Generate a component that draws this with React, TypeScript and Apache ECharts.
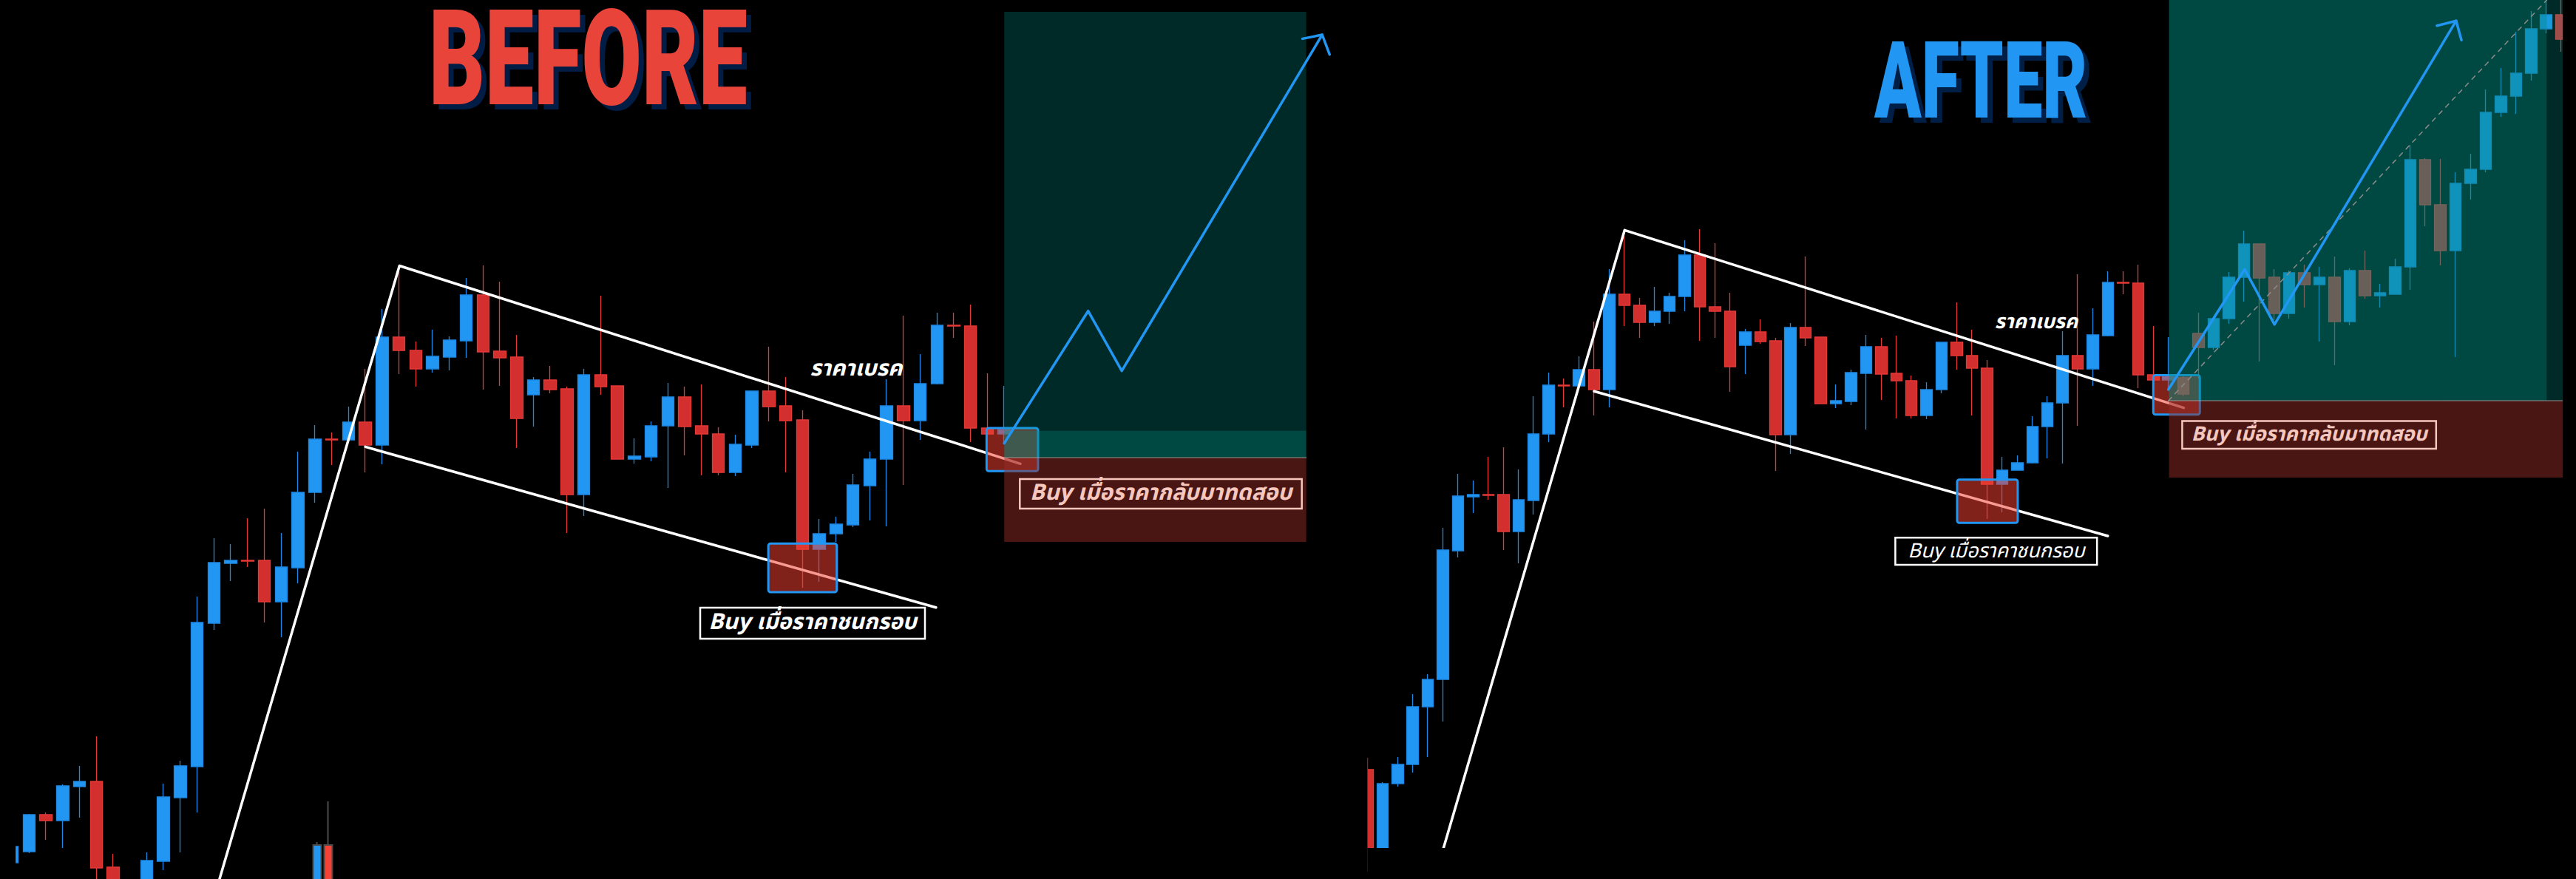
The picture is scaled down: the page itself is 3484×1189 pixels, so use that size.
import React, { useEffect, useRef } from 'react';
import * as echarts from 'echarts';

const W = 3484;
const H = 1189;

// ---------- DATA (price units, x = candle index) ----------
const leftFirstIndex = -1;
// [open, close, low, high]
const leftOHLC: number[][] = [
  [22, 44, 22, 44],
  [37, 87, 35, 88],
  [87, 79, 53, 90],
  [79, 126, 42, 128],
  [125, 132, 83, 153],
  [132, 15, -10, 193],
  [16, -25, -35, 34],
  [-30, -15, -40, -8],
  [-12, 25, -20, 36],
  [24, 111, 12, 129],
  [110, 153, 36, 160],
  [152, 347, 90, 382],
  [346, 428, 337, 461],
  [427, 431, 403, 453],
  [431, 430, 422, 488],
  [431, 375, 347, 501],
  [375, 422, 327, 468],
  [421, 523, 400, 578],
  [523, 595, 509, 614],
  [595, 594, 560, 604],
  [594, 618, 594, 639],
  [618, 587, 550, 690],
  [587, 733, 561, 771],
  [733, 715, 683, 822],
  [715, 690, 666, 727],
  [690, 707, 685, 743],
  [706, 729, 688, 734],
  [728, 790, 705, 813],
  [790, 713, 662, 830],
  [714, 705, 667, 808],
  [706, 623, 583, 736],
  [655, 675, 612, 679],
  [675, 662, 657, 694],
  [663, 520, 468, 666],
  [520, 682, 491, 690],
  [682, 666, 655, 789],
  [667, 568, 568, 667],
  [568, 572, 562, 596],
  [571, 613, 565, 619],
  [613, 652, 529, 671],
  [652, 612, 573, 666],
  [613, 602, 546, 669],
  [602, 550, 546, 611],
  [550, 588, 545, 601],
  [587, 660, 583, 660],
  [660, 639, 619, 720],
  [640, 620, 550, 679],
  [621, 446, 394, 634],
  [446, 467, 402, 487],
  [467, 480, 456, 490],
  [479, 533, 476, 548],
  [532, 568, 485, 578],
  [568, 640, 477, 676],
  [640, 620, 533, 762],
  [620, 670, 594, 710],
  [670, 749, 669, 766],
  [749, 748, 732, 766],
  [748, 610, 591, 777],
  [610, 602, 602, 684],
  [602, 608, 589, 667],
];

// two grey-outlined overlay bars at the bottom of the left panel: [x, open, close, low, high]
const leftOverlayBars: number[][] = [
  [17.14, -20, 46, -30, 50],
  [17.8, 46, -20, -30, 105],
];

const rightFirstIndex = 0;
const rightOHLC: number[][] = [
  [148, 20, 10, 164],
  [20, 129, 15, 131],
  [129, 155, 125, 165],
  [155, 233, 144, 250],
  [233, 270, 165, 277],
  [270, 445, 213, 475],
  [444, 518, 435, 548],
  [517, 520, 495, 539],
  [520, 519, 513, 571],
  [520, 470, 445, 584],
  [470, 513, 427, 554],
  [512, 602, 493, 653],
  [602, 668, 591, 685],
  [668, 667, 638, 677],
  [667, 689, 667, 707],
  [689, 662, 627, 754],
  [662, 791, 638, 825],
  [791, 776, 748, 874],
  [776, 753, 732, 786],
  [753, 768, 748, 801],
  [768, 788, 751, 793],
  [788, 844, 768, 864],
  [844, 774, 728, 879],
  [774, 768, 732, 860],
  [768, 693, 659, 793],
  [722, 740, 683, 744],
  [740, 727, 724, 757],
  [728, 601, 552, 732],
  [601, 746, 575, 752],
  [746, 732, 721, 842],
  [733, 643, 643, 733],
  [643, 647, 637, 669],
  [646, 685, 641, 689],
  [684, 720, 608, 736],
  [720, 683, 648, 732],
  [684, 674, 623, 735],
  [674, 627, 623, 681],
  [627, 662, 622, 672],
  [662, 726, 657, 726],
  [726, 708, 689, 780],
  [708, 691, 627, 743],
  [691, 534, 487, 702],
  [534, 553, 496, 571],
  [553, 563, 553, 573],
  [563, 612, 562, 626],
  [612, 644, 569, 653],
  [644, 708, 562, 741],
  [708, 690, 613, 818],
  [690, 736, 667, 772],
  [735, 807, 734, 822],
  [807, 806, 791, 822],
  [806, 682, 664, 831],
  [682, 675, 675, 748],
  [675, 680, 662, 733],
  [678, 656, 653, 681],
  [738, 719, 677, 766],
  [719, 758, 716, 758],
  [758, 814, 751, 821],
  [814, 859, 781, 877],
  [859, 813, 700, 859],
  [814, 765, 756, 825],
  [765, 820, 758, 823],
  [820, 804, 773, 831],
  [804, 814, 727, 828],
  [814, 754, 695, 842],
  [754, 823, 749, 826],
  [823, 789, 785, 850],
  [789, 793, 773, 805],
  [791, 828, 791, 839],
  [828, 973, 797, 993],
  [973, 912, 883, 975],
  [912, 850, 830, 974],
  [850, 941, 706, 956],
  [941, 960, 919, 981],
  [960, 1037, 956, 1068],
  [1037, 1059, 1031, 1097],
  [1059, 1090, 1035, 1146],
  [1090, 1150, 1080, 1174],
  [1150, 1169, 1144, 1195],
  [1169, 1136, 1119, 1200],
];

// trend lines [x, price]
const leftChannelTop: number[][] = [[11.33, 0], [22.03, 829.5], [58.96, 561.7]];
const leftChannelBottom: number[][] = [[20.0, 584.6], [53.94, 367.3]];
const rightChannelTop: number[][] = [[5.0, 39.4], [17.02, 877.7], [54.01, 637.3]];
const rightChannelBottom: number[][] = [[15.0, 659.7], [48.99, 464]];

// projected path arrows
const leftArrow: number[][] = [[58.0, 589.4], [62.99, 768.3], [64.99, 687.3], [76.91, 1142]];
const leftArrowHead: number[][] = [[75.74, 1136.6], [76.91, 1142], [77.35, 1115.3]];
const rightArrow: number[][] = [[53.0, 662.1], [58.05, 824.7], [60.02, 750.1], [72.04, 1160.8]];
const rightArrowHead: number[][] = [[70.77, 1154.3], [72.04, 1160.8], [72.39, 1134.8]];

// rectangles [x1, price1, x2, price2]
const leftTouchBox: number[][] = [[43.97, 453.7, 48.04, 388]];
const leftRetestBox: number[][] = [[56.95, 610, 60.01, 551.7]];
const leftProfitZone: number[][] = [[58.0, 1173, 75.96, 606.4]];
const leftCurrentZone: number[][] = [[58.0, 606.4, 75.96, 570]];
const leftLossZone: number[][] = [[58.0, 570, 75.96, 456]];
const leftEntryLine: number[][] = [[58.0, 570], [75.96, 570]];

const rightTouchBox: number[][] = [[39.02, 540.3, 43.03, 481.7]];
const rightRetestBox: number[][] = [[52.0, 681.6, 55.08, 628.3]];
const rightProfitZone: number[][] = [[78.04, 1200, 79.13, 647]];
const rightCurrentZone: number[][] = [[53.04, 1200, 78.04, 647]];
const rightLossZone: number[][] = [[53.04, 647, 79.13, 543]];
const rightEntryLine: number[][] = [[53.04, 647], [79.13, 647]];
const rightProgressLine: number[][] = [[53.0, 647], [78.04, 1189]];

// texts
const titleBefore = 'BEFORE';
const titleAfter = 'AFTER';
const breakText = 'ราคาเบรค';
const touchText = 'Buy เมื่อราคาชนกรอบ';
const retestText = 'Buy เมื่อราคากลับมาทดสอบ';

// ---------- LAYOUT ----------
const L_X0 = 39.3, L_DX = 22.74, L_MIN = -0.8, L_MAX = 79;
const R_X0 = 1849.4, R_DX = 20.44, R_MIN = 0, R_MAX = 79.1;
const R_BOTTOM = 1147;

const BLUE = '#2196f3';
const RED = '#d32f2f';
const THAI = "'Noto Sans Thai', 'Noto Sans Thai UI', 'Noto Sans', 'DejaVu Sans', sans-serif";

function withX(ohlc: number[][], first: number) {
  return ohlc.map((d, i) => [first + i, d[0], d[1], d[2], d[3]]);
}

function candle(data: number[][], axis: number, width: number, extra: any = {}) {
  return {
    type: 'candlestick',
    xAxisIndex: axis,
    yAxisIndex: axis,
    data,
    encode: { x: 0, y: [1, 2, 3, 4] },
    barWidth: width,
    clip: true,
    silent: true,
    z: 2,
    itemStyle: {
      color: BLUE,
      color0: RED,
      borderColor: '#1e88e5',
      borderColor0: '#e53935',
      borderWidth: 1.3,
    },
    ...extra,
  };
}

function line(data: number[][], axis: number, color: string, width: number, z: number, type: any = 'solid') {
  return {
    type: 'line',
    xAxisIndex: axis,
    yAxisIndex: axis,
    data,
    symbol: 'none',
    silent: true,
    clip: true,
    z,
    lineStyle: { color, width, type, cap: 'round', join: 'round' },
  };
}

function rects(data: number[][], axis: number, fill: string, stroke: string | null, lw: number, z: number, r = 0) {
  return {
    type: 'custom',
    xAxisIndex: axis,
    yAxisIndex: axis,
    data,
    silent: true,
    z,
    encode: { x: [0, 2], y: [1, 3] },
    renderItem: (_p: any, api: any) => {
      const a = api.coord([api.value(0), api.value(1)]);
      const b = api.coord([api.value(2), api.value(3)]);
      return {
        type: 'rect',
        shape: {
          x: Math.min(a[0], b[0]),
          y: Math.min(a[1], b[1]),
          width: Math.abs(b[0] - a[0]),
          height: Math.abs(b[1] - a[1]),
          r,
        },
        style: { fill, stroke: stroke || 'none', lineWidth: stroke ? lw : 0 },
      };
    },
  };
}

function text(t: string, x: number, y: number, size: number, fill: string, weight: any, style: string, family: string, align = 'center', scaleX = 1, lineHeight?: number) {
  return {
    type: 'text',
    x,
    y,
    z: 100,
    scaleX,
    silent: true,
    style: {
      text: t,
      fill,
      fontSize: size,
      fontWeight: weight,
      fontStyle: style,
      fontFamily: family,
      lineHeight: lineHeight || Math.round(size * 1.2),
      textAlign: align,
      textVerticalAlign: 'middle',
      align,
      verticalAlign: 'middle',
    },
  };
}

function frame(x: number, y: number, w: number, h: number, stroke: string) {
  return {
    type: 'rect',
    z: 99,
    silent: true,
    shape: { x, y, width: w, height: h },
    style: { fill: 'none', stroke, lineWidth: 2.5 },
  };
}

function mask(x: number, y: number, w: number, h: number) {
  return {
    type: 'rect',
    z: 50,
    silent: true,
    shape: { x, y, width: w, height: h },
    style: { fill: '#000' },
  };
}

function buildOption(): any {
  const TITLE_FONT = "Roboto, 'DejaVu Sans', sans-serif";
  const lGridLeft = L_X0 + L_MIN * L_DX;
  const rGridLeft = R_X0 + R_MIN * R_DX;
  const rGridRight = R_X0 + R_MAX * R_DX;
  return {
    animation: false,
    backgroundColor: '#000',
    grid: [
      { left: lGridLeft, width: (L_MAX - L_MIN) * L_DX, top: 0, height: H },
      { left: rGridLeft, width: (R_MAX - R_MIN) * R_DX, top: 0, height: R_BOTTOM },
    ],
    xAxis: [
      { type: 'value', gridIndex: 0, min: L_MIN, max: L_MAX, show: false },
      { type: 'value', gridIndex: 1, min: R_MIN, max: R_MAX, show: false },
    ],
    yAxis: [
      { type: 'value', gridIndex: 0, min: 0, max: 1189, show: false },
      { type: 'value', gridIndex: 1, min: 42, max: 1189, show: false },
    ],
    series: [
      candle(withX(leftOHLC, leftFirstIndex), 0, 17),
      candle(leftOverlayBars, 0, 12, {
        itemStyle: { color: BLUE, color0: '#f44336', borderColor: '#4a4a4a', borderColor0: '#4a4a4a', borderWidth: 2 },
      }),
      candle(withX(rightOHLC, rightFirstIndex), 1, 16),

      line(leftChannelTop, 0, '#ffffff', 3.5, 3),
      line(leftChannelBottom, 0, '#ffffff', 3.5, 3),
      line(rightChannelTop, 1, '#ffffff', 3.5, 3),
      line(rightChannelBottom, 1, '#ffffff', 3.5, 3),

      rects(leftTouchBox, 0, 'rgba(242,64,49,0.53)', BLUE, 3, 4, 3),
      rects(leftRetestBox, 0, 'rgba(242,64,49,0.53)', BLUE, 3, 4, 3),
      rects(rightTouchBox, 1, 'rgba(242,64,49,0.53)', BLUE, 3, 4, 3),
      rects(rightRetestBox, 1, 'rgba(242,64,49,0.53)', BLUE, 3, 4, 3),

      rects(leftProfitZone, 0, 'rgba(0,168,156,0.25)', null, 0, 5),
      rects(leftCurrentZone, 0, 'rgba(0,144,132,0.5)', null, 0, 5),
      rects(leftLossZone, 0, 'rgba(148,44,40,0.5)', null, 0, 5),
      rects(rightProfitZone, 1, 'rgba(0,168,156,0.25)', null, 0, 5),
      rects(rightCurrentZone, 1, 'rgba(0,144,132,0.5)', null, 0, 5),
      rects(rightLossZone, 1, 'rgba(148,44,40,0.5)', null, 0, 5),

      line(leftEntryLine, 0, 'rgba(170,170,170,0.55)', 1.5, 6),
      line(rightEntryLine, 1, 'rgba(170,170,170,0.55)', 1.5, 6),
      line(rightProgressLine, 1, '#8c8c8c', 1.5, 6, [6, 7]),

      line(leftArrow, 0, BLUE, 3.5, 7),
      line(leftArrowHead, 0, BLUE, 3.5, 7),
      line(rightArrow, 1, BLUE, 3.5, 7),
      line(rightArrowHead, 1, BLUE, 3.5, 7),
    ],
    graphic: [
      // masks that clip candles to their panels
      mask(0, 0, lGridLeft, H),
      mask(1805, 0, rGridLeft - 1805, H),
      mask(rGridLeft, R_BOTTOM, W - rGridLeft, H - R_BOTTOM),
      mask(rGridRight, 0, W - rGridRight, H),

      text(titleBefore, 587, 86, 180, '#011d45', 900, 'normal', TITLE_FONT, 'left', 0.655, 130),
      text(titleBefore, 580, 79, 180, '#e8443a', 900, 'normal', TITLE_FONT, 'left', 0.655, 130),
      text(titleAfter, 2542, 117, 144, '#001f47', 900, 'normal', TITLE_FONT, 'left', 0.65, 110),
      text(titleAfter, 2535, 110, 144, BLUE, 900, 'normal', TITLE_FONT, 'left', 0.65, 110),

      text(breakText, 1158, 499, 30, '#ffffff', 'bold', 'italic', THAI),
      text(breakText, 2754, 435, 27, '#ffffff', 'bold', 'italic', THAI),

      frame(947, 822, 304, 42, '#ffffff'),
      text(touchText, 1099, 842, 30, '#ffffff', 'bold', 'italic', THAI),
      frame(2563.4, 727.3, 272.8, 36.7, '#ffffff'),
      text(touchText, 2700, 745, 27, '#ffffff', 'normal', 'italic', THAI),

      frame(1379.3, 648, 381.4, 40, '#f6c7bd'),
      text(retestText, 1570, 667, 30, '#f6c7bd', 'bold', 'italic', THAI),
      frame(2951.4, 569.4, 343.4, 37.7, '#f6c7bd'),
      text(retestText, 3123, 587, 27, '#f6c7bd', 'bold', 'italic', THAI),
    ],
  };
}

export default function App() {
  const ref = useRef<HTMLDivElement>(null);
  useEffect(() => {
    const el = ref.current;
    if (!el) return;
    const chart = echarts.init(el, null, { renderer: 'svg', width: W, height: H });
    chart.setOption(buildOption());
    return () => chart.dispose();
  }, []);
  return (
    <div
      ref={ref}
      style={{ position: 'fixed', left: 0, top: 0, width: W, height: H, background: '#000' }}
    />
  );
}
